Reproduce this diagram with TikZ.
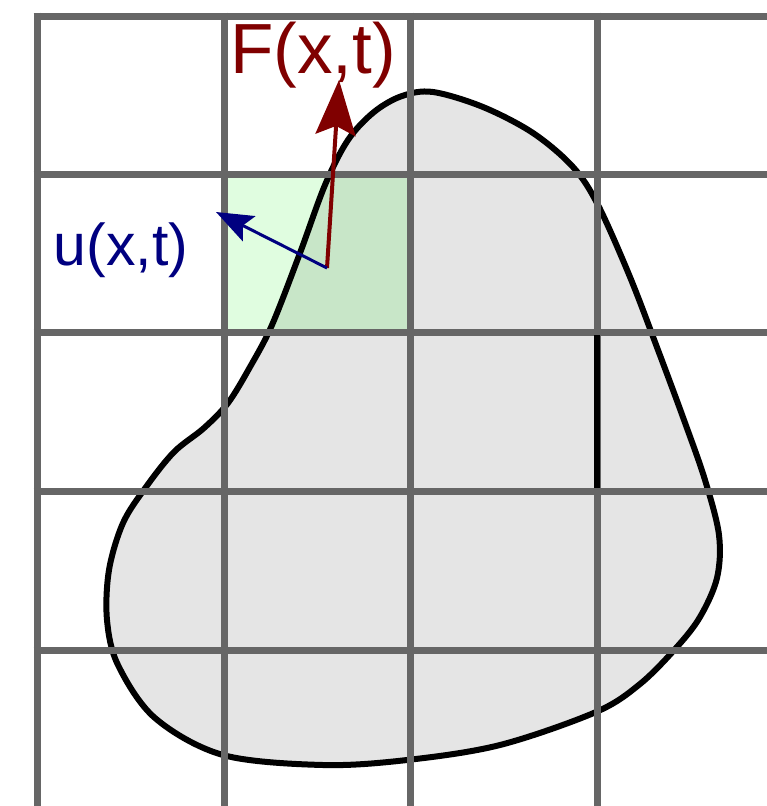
\documentclass[tikz,border=0pt]{standalone}
\usepackage{fontspec}
\setmainfont{Liberation Sans}
\usetikzlibrary{arrows.meta}
\definecolor{gridgray}{HTML}{666666}
\definecolor{blobgray}{HTML}{E5E5E5}
\definecolor{cellgreen}{HTML}{E0FDE0}
\definecolor{cellgreendark}{HTML}{C8E6C8}
\definecolor{fred}{HTML}{800000}
\definecolor{ublue}{HTML}{000080}
\newcommand{\blobshape}{plot[smooth cycle, tension=0.55] coordinates {(433,92) (483,107) (533,133) (573,167) (598,205) (630,277) (658,350) (684,420) (705,480) (719,535) (717,578) (700,617) (676,648) (640,684) (596,712) (500,745) (407,760) (323,765) (223,755) (155,718) (118,665) (107,620) (109,570) (123,523) (146,487) (174,452) (204,428) (228,403) (250,367) (272,325) (300,253) (325,185) (348,140) (374,112) (402,96)}}
\tikzset{
  gridline/.style={gridgray, line width=7pt},
  outline/.style={black, line width=6pt},
  lbl/.style={inner sep=0pt, anchor=base, font=\fontsize{#1}{#1}\selectfont},
}
\begin{document}
\begin{tikzpicture}[x=1pt, y=-1pt]
\useasboundingbox (0,0) rectangle (767,806);
\clip (0,0) rectangle (767,806);
% green cell (white part)
\fill[cellgreen] (224,174) rectangle (410,332);
% blob fill
\fill[blobgray] \blobshape;
% green cell over the blob
\begin{scope}
  \clip \blobshape;
  \fill[cellgreendark] (224,174) rectangle (410,332);
\end{scope}
% blob outline
\draw[outline] \blobshape;
% grid
\foreach \y in {16,174,332,491,650,809}
  \draw[gridline] (33.5,\y) -- (800,\y);
\foreach \x in {37,224,410,597,783}
  \draw[gridline] (\x,12.5) -- (\x,830);
% black segment on the grid line
\draw[black, line width=6pt] (597,335) -- (597,488);
% arrows
\coordinate (o) at (327,268);
\coordinate (ftip) at (339,80);
\coordinate (utip) at (216,212);
\draw[fred, line width=4pt, -{Stealth[length=55pt, width=40pt, inset=9pt]}] (o) -- (ftip);
\draw[ublue, line width=3pt, -{Stealth[length=37pt, width=28pt, inset=7pt]}] (o) -- (utip);
% labels
\node[lbl=71, text=fred] (flabel) at (313,73) {F(x,t)};
\node[lbl=59, text=ublue] (ulabel) at (121,265) {u(x,t)};
\end{tikzpicture}
\end{document}
